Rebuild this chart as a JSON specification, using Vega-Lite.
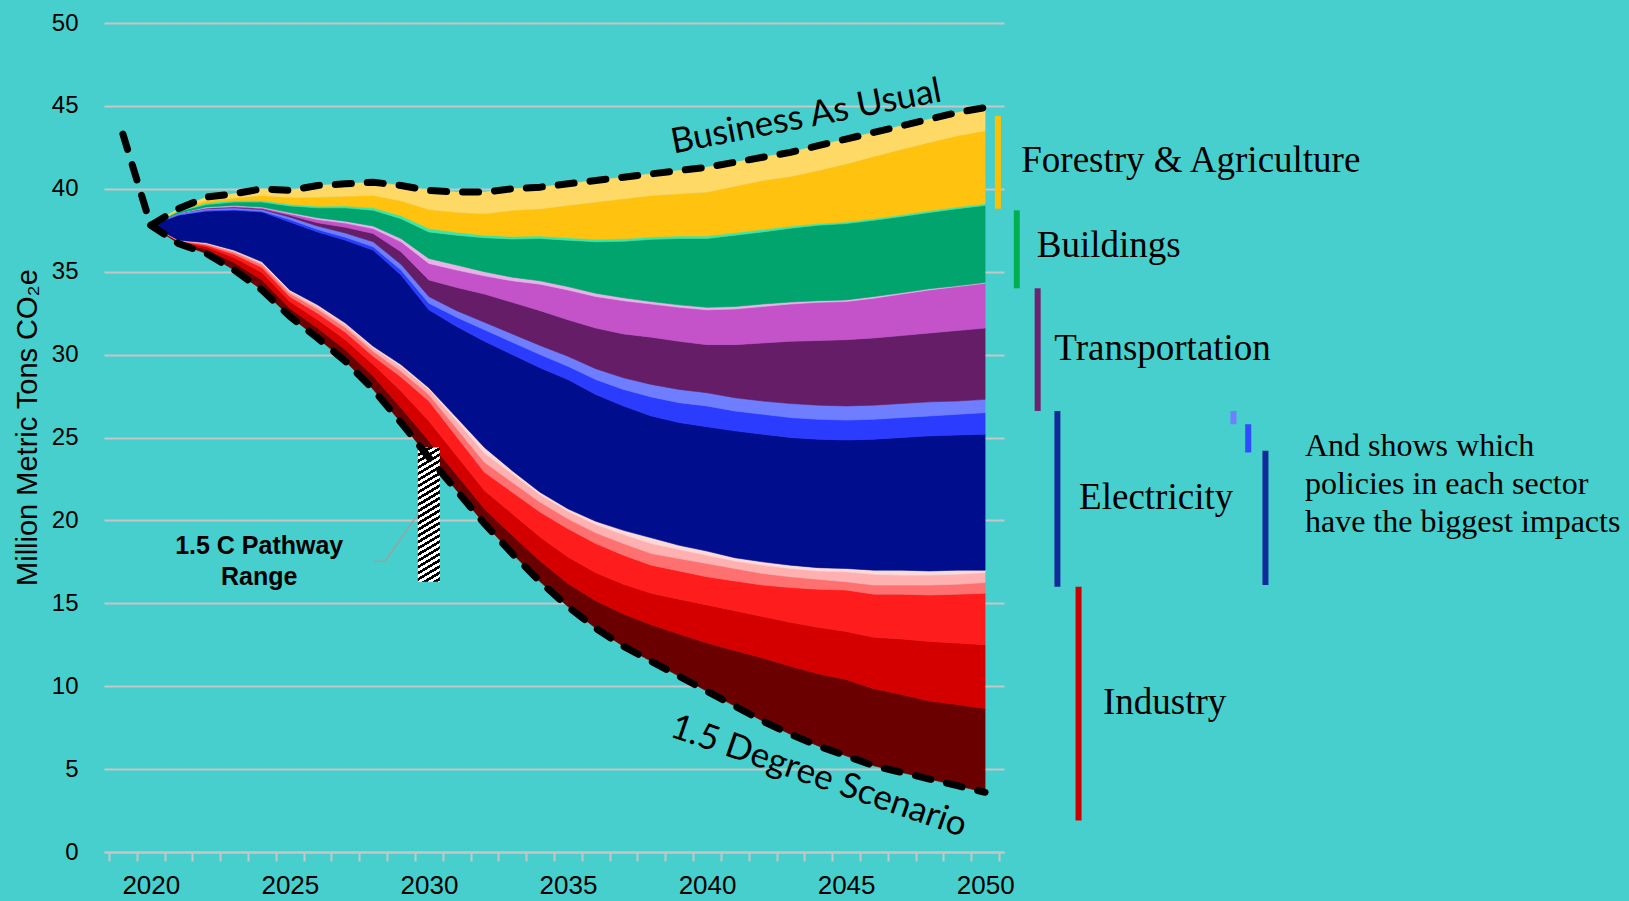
{
  "$schema": "https://vega.github.io/schema/vega-lite/v6.json",
  "width": 900,
  "height": 829,
  "autosize": {"type": "none"},
  "padding": {"left": 104, "top": 23, "right": 625, "bottom": 49},
  "background": "#46CFCC",
  "config": {"view": {"stroke": null}},
  "datasets": {
    "wedges": [
      {"year":2020,"a_base":37.8,"b_ind1":0,"c_ind2":0,"d_ind3":0,"e_ind4":0,"f_ind5":0,"g_ind6":0,"h_elec1":0,"i_elec2":0,"j_elec3":0,"k_trans1":0,"l_trans2":0,"m_trans3":0,"n_bldg1":0,"o_bldg2":0,"p_forag1":0,"q_forag2":0},
      {"year":2021,"a_base":36.7,"b_ind1":0.08,"c_ind2":0.05,"d_ind3":0.03,"e_ind4":0.02,"f_ind5":0.01,"g_ind6":0.01,"h_elec1":1.5,"i_elec2":0.03,"j_elec3":0.1,"k_trans1":0,"l_trans2":0,"m_trans3":0,"n_bldg1":0.1,"o_bldg2":0.05,"p_forag1":0.07,"q_forag2":0.05},
      {"year":2022,"a_base":36.1,"b_ind1":0.25,"c_ind2":0.15,"d_ind3":0.1,"e_ind4":0.07,"f_ind5":0.05,"g_ind6":0.03,"h_elec1":1.9,"i_elec2":0.05,"j_elec3":0.1,"k_trans1":0.03,"l_trans2":0.02,"m_trans3":0.05,"n_bldg1":0.15,"o_bldg2":0.1,"p_forag1":0.15,"q_forag2":0.2},
      {"year":2023,"a_base":35.1,"b_ind1":0.45,"c_ind2":0.3,"d_ind3":0.2,"e_ind4":0.13,"f_ind5":0.07,"g_ind6":0.05,"h_elec1":2.4,"i_elec2":0.05,"j_elec3":0.1,"k_trans1":0.05,"l_trans2":0.05,"m_trans3":0.05,"n_bldg1":0.2,"o_bldg2":0.1,"p_forag1":0.15,"q_forag2":0.25},
      {"year":2024,"a_base":33.9,"b_ind1":0.6,"c_ind2":0.45,"d_ind3":0.3,"e_ind4":0.18,"f_ind5":0.1,"g_ind6":0.07,"h_elec1":3.0,"i_elec2":0.05,"j_elec3":0.1,"k_trans1":0.05,"l_trans2":0.05,"m_trans3":0.05,"n_bldg1":0.3,"o_bldg2":0.1,"p_forag1":0.3,"q_forag2":0.4},
      {"year":2025,"a_base":32.3,"b_ind1":0.5,"c_ind2":0.4,"d_ind3":0.3,"e_ind4":0.2,"f_ind5":0.12,"g_ind6":0.08,"h_elec1":4.1,"i_elec2":0.15,"j_elec3":0.15,"k_trans1":0.1,"l_trans2":0.1,"m_trans3":0.07,"n_bldg1":0.4,"o_bldg2":0.1,"p_forag1":0.4,"q_forag2":0.43},
      {"year":2026,"a_base":31.0,"b_ind1":0.6,"c_ind2":0.5,"d_ind3":0.4,"e_ind4":0.25,"f_ind5":0.15,"g_ind6":0.1,"h_elec1":4.4,"i_elec2":0.15,"j_elec3":0.2,"k_trans1":0.2,"l_trans2":0.2,"m_trans3":0.1,"n_bldg1":0.6,"o_bldg2":0.1,"p_forag1":0.55,"q_forag2":0.7},
      {"year":2027,"a_base":29.6,"b_ind1":0.7,"c_ind2":0.6,"d_ind3":0.45,"e_ind4":0.28,"f_ind5":0.17,"g_ind6":0.1,"h_elec1":5.0,"i_elec2":0.18,"j_elec3":0.25,"k_trans1":0.35,"l_trans2":0.25,"m_trans3":0.12,"n_bldg1":0.8,"o_bldg2":0.12,"p_forag1":0.58,"q_forag2":0.75},
      {"year":2028,"a_base":27.9,"b_ind1":0.8,"c_ind2":0.7,"d_ind3":0.5,"e_ind4":0.3,"f_ind5":0.2,"g_ind6":0.1,"h_elec1":5.8,"i_elec2":0.2,"j_elec3":0.3,"k_trans1":0.5,"l_trans2":0.3,"m_trans3":0.15,"n_bldg1":0.95,"o_bldg2":0.15,"p_forag1":0.75,"q_forag2":0.8},
      {"year":2029,"a_base":25.9,"b_ind1":0.9,"c_ind2":1.0,"d_ind3":0.85,"e_ind4":0.35,"f_ind5":0.28,"g_ind6":0.12,"h_elec1":5.4,"i_elec2":0.3,"j_elec3":0.35,"k_trans1":0.75,"l_trans2":0.6,"m_trans3":0.2,"n_bldg1":1.2,"o_bldg2":0.18,"p_forag1":0.9,"q_forag2":0.92},
      {"year":2030,"a_base":23.8,"b_ind1":1.0,"c_ind2":1.2,"d_ind3":1.2,"e_ind4":0.4,"f_ind5":0.3,"g_ind6":0.1,"h_elec1":4.7,"i_elec2":0.4,"j_elec3":0.4,"k_trans1":1.0,"l_trans2":1.0,"m_trans3":0.3,"n_bldg1":1.6,"o_bldg2":0.2,"p_forag1":1.15,"q_forag2":1.15},
      {"year":2031,"a_base":21.8,"b_ind1":0.95,"c_ind2":1.15,"d_ind3":1.15,"e_ind4":0.5,"f_ind5":0.45,"g_ind6":0.2,"h_elec1":5.5,"i_elec2":0.55,"j_elec3":0.4,"k_trans1":1.4,"l_trans2":1.05,"m_trans3":0.3,"n_bldg1":1.8,"o_bldg2":0.18,"p_forag1":1.2,"q_forag2":1.22},
      {"year":2032,"a_base":19.8,"b_ind1":0.9,"c_ind2":1.1,"d_ind3":1.1,"e_ind4":0.6,"f_ind5":0.55,"g_ind6":0.35,"h_elec1":6.4,"i_elec2":0.7,"j_elec3":0.45,"k_trans1":1.7,"l_trans2":1.1,"m_trans3":0.25,"n_bldg1":2.05,"o_bldg2":0.15,"p_forag1":1.3,"q_forag2":1.3},
      {"year":2033,"a_base":18.0,"b_ind1":1.1,"c_ind2":1.3,"d_ind3":1.3,"e_ind4":0.6,"f_ind5":0.5,"g_ind6":0.2,"h_elec1":7.0,"i_elec2":0.75,"j_elec3":0.5,"k_trans1":1.9,"l_trans2":1.3,"m_trans3":0.22,"n_bldg1":2.3,"o_bldg2":0.15,"p_forag1":1.58,"q_forag2":1.3},
      {"year":2034,"a_base":16.3,"b_ind1":1.25,"c_ind2":1.45,"d_ind3":1.5,"e_ind4":0.6,"f_ind5":0.45,"g_ind6":0.15,"h_elec1":7.5,"i_elec2":0.8,"j_elec3":0.55,"k_trans1":2.1,"l_trans2":1.6,"m_trans3":0.2,"n_bldg1":2.55,"o_bldg2":0.15,"p_forag1":1.65,"q_forag2":1.3},
      {"year":2035,"a_base":14.8,"b_ind1":1.4,"c_ind2":1.6,"d_ind3":1.7,"e_ind4":0.6,"f_ind5":0.45,"g_ind6":0.15,"h_elec1":7.8,"i_elec2":0.8,"j_elec3":0.6,"k_trans1":2.2,"l_trans2":1.8,"m_trans3":0.2,"n_bldg1":2.8,"o_bldg2":0.15,"p_forag1":1.95,"q_forag2":1.3},
      {"year":2036,"a_base":13.5,"b_ind1":1.65,"c_ind2":1.7,"d_ind3":1.75,"e_ind4":0.65,"f_ind5":0.5,"g_ind6":0.2,"h_elec1":7.65,"i_elec2":0.9,"j_elec3":0.65,"k_trans1":2.45,"l_trans2":1.9,"m_trans3":0.2,"n_bldg1":3.1,"o_bldg2":0.15,"p_forag1":2.25,"q_forag2":1.3},
      {"year":2037,"a_base":12.4,"b_ind1":1.95,"c_ind2":1.8,"d_ind3":1.75,"e_ind4":0.7,"f_ind5":0.55,"g_ind6":0.25,"h_elec1":7.5,"i_elec2":1.0,"j_elec3":0.7,"k_trans1":2.65,"l_trans2":2.0,"m_trans3":0.18,"n_bldg1":3.4,"o_bldg2":0.15,"p_forag1":2.42,"q_forag2":1.3},
      {"year":2038,"a_base":11.5,"b_ind1":2.2,"c_ind2":1.9,"d_ind3":1.7,"e_ind4":0.7,"f_ind5":0.6,"g_ind6":0.35,"h_elec1":7.35,"i_elec2":1.15,"j_elec3":0.75,"k_trans1":2.85,"l_trans2":2.0,"m_trans3":0.15,"n_bldg1":3.75,"o_bldg2":0.15,"p_forag1":2.5,"q_forag2":1.3},
      {"year":2039,"a_base":10.6,"b_ind1":2.55,"c_ind2":2.1,"d_ind3":1.7,"e_ind4":0.75,"f_ind5":0.55,"g_ind6":0.25,"h_elec1":7.4,"i_elec2":1.2,"j_elec3":0.8,"k_trans1":2.9,"l_trans2":2.05,"m_trans3":0.15,"n_bldg1":4.0,"o_bldg2":0.15,"p_forag1":2.55,"q_forag2":1.4},
      {"year":2040,"a_base":9.7,"b_ind1":2.9,"c_ind2":2.3,"d_ind3":1.7,"e_ind4":0.8,"f_ind5":0.5,"g_ind6":0.25,"h_elec1":7.5,"i_elec2":1.25,"j_elec3":0.8,"k_trans1":2.9,"l_trans2":2.1,"m_trans3":0.15,"n_bldg1":4.15,"o_bldg2":0.15,"p_forag1":2.65,"q_forag2":1.5},
      {"year":2041,"a_base":8.8,"b_ind1":3.35,"c_ind2":2.4,"d_ind3":1.8,"e_ind4":0.75,"f_ind5":0.45,"g_ind6":0.2,"h_elec1":7.65,"i_elec2":1.2,"j_elec3":0.8,"k_trans1":3.2,"l_trans2":2.15,"m_trans3":0.15,"n_bldg1":4.3,"o_bldg2":0.15,"p_forag1":2.8,"q_forag2":1.45},
      {"year":2042,"a_base":7.9,"b_ind1":3.8,"c_ind2":2.5,"d_ind3":1.9,"e_ind4":0.7,"f_ind5":0.5,"g_ind6":0.2,"h_elec1":7.7,"i_elec2":1.2,"j_elec3":0.8,"k_trans1":3.5,"l_trans2":2.2,"m_trans3":0.15,"n_bldg1":4.35,"o_bldg2":0.15,"p_forag1":2.95,"q_forag2":1.4},
      {"year":2043,"a_base":7.1,"b_ind1":4.1,"c_ind2":2.65,"d_ind3":2.1,"e_ind4":0.65,"f_ind5":0.5,"g_ind6":0.2,"h_elec1":7.7,"i_elec2":1.2,"j_elec3":0.85,"k_trans1":3.75,"l_trans2":2.25,"m_trans3":0.12,"n_bldg1":4.45,"o_bldg2":0.12,"p_forag1":3.0,"q_forag2":1.46},
      {"year":2044,"a_base":6.4,"b_ind1":4.35,"c_ind2":2.8,"d_ind3":2.3,"e_ind4":0.6,"f_ind5":0.5,"g_ind6":0.2,"h_elec1":7.75,"i_elec2":1.2,"j_elec3":0.85,"k_trans1":3.9,"l_trans2":2.3,"m_trans3":0.1,"n_bldg1":4.55,"o_bldg2":0.1,"p_forag1":3.2,"q_forag2":1.5},
      {"year":2045,"a_base":5.8,"b_ind1":4.6,"c_ind2":2.9,"d_ind3":2.5,"e_ind4":0.5,"f_ind5":0.6,"g_ind6":0.2,"h_elec1":7.75,"i_elec2":1.2,"j_elec3":0.85,"k_trans1":4.0,"l_trans2":2.3,"m_trans3":0.1,"n_bldg1":4.6,"o_bldg2":0.1,"p_forag1":3.5,"q_forag2":1.5},
      {"year":2046,"a_base":5.2,"b_ind1":4.65,"c_ind2":3.1,"d_ind3":2.6,"e_ind4":0.55,"f_ind5":0.65,"g_ind6":0.25,"h_elec1":7.9,"i_elec2":1.2,"j_elec3":0.85,"k_trans1":4.05,"l_trans2":2.4,"m_trans3":0.1,"n_bldg1":4.6,"o_bldg2":0.1,"p_forag1":3.75,"q_forag2":1.45},
      {"year":2047,"a_base":4.8,"b_ind1":4.7,"c_ind2":3.35,"d_ind3":2.7,"e_ind4":0.55,"f_ind5":0.6,"g_ind6":0.3,"h_elec1":8.0,"i_elec2":1.2,"j_elec3":0.85,"k_trans1":4.1,"l_trans2":2.5,"m_trans3":0.08,"n_bldg1":4.6,"o_bldg2":0.1,"p_forag1":3.95,"q_forag2":1.42},
      {"year":2048,"a_base":4.4,"b_ind1":4.7,"c_ind2":3.6,"d_ind3":2.8,"e_ind4":0.6,"f_ind5":0.6,"g_ind6":0.25,"h_elec1":8.15,"i_elec2":1.2,"j_elec3":0.85,"k_trans1":4.15,"l_trans2":2.6,"m_trans3":0.07,"n_bldg1":4.6,"o_bldg2":0.1,"p_forag1":4.13,"q_forag2":1.4},
      {"year":2049,"a_base":4.0,"b_ind1":4.9,"c_ind2":3.7,"d_ind3":2.95,"e_ind4":0.6,"f_ind5":0.6,"g_ind6":0.25,"h_elec1":8.15,"i_elec2":1.25,"j_elec3":0.8,"k_trans1":4.25,"l_trans2":2.65,"m_trans3":0.05,"n_bldg1":4.65,"o_bldg2":0.1,"p_forag1":4.3,"q_forag2":1.4},
      {"year":2050,"a_base":3.6,"b_ind1":5.05,"c_ind2":3.85,"d_ind3":3.1,"e_ind4":0.65,"f_ind5":0.6,"g_ind6":0.15,"h_elec1":8.2,"i_elec2":1.3,"j_elec3":0.8,"k_trans1":4.3,"l_trans2":2.7,"m_trans3":0.05,"n_bldg1":4.65,"o_bldg2":0.1,"p_forag1":4.4,"q_forag2":1.4}
    ],
    "scenarios": [
      {"year":2019,"scenario":"Business As Usual","mt":43.3},
      {"year":2020,"scenario":"Business As Usual","mt":37.8},
      {"year":2021,"scenario":"Business As Usual","mt":38.8},
      {"year":2022,"scenario":"Business As Usual","mt":39.5},
      {"year":2023,"scenario":"Business As Usual","mt":39.7},
      {"year":2024,"scenario":"Business As Usual","mt":40.0},
      {"year":2025,"scenario":"Business As Usual","mt":39.9},
      {"year":2026,"scenario":"Business As Usual","mt":40.2},
      {"year":2027,"scenario":"Business As Usual","mt":40.3},
      {"year":2028,"scenario":"Business As Usual","mt":40.4},
      {"year":2029,"scenario":"Business As Usual","mt":40.2},
      {"year":2030,"scenario":"Business As Usual","mt":39.9},
      {"year":2031,"scenario":"Business As Usual","mt":39.8},
      {"year":2032,"scenario":"Business As Usual","mt":39.8},
      {"year":2033,"scenario":"Business As Usual","mt":40.0},
      {"year":2034,"scenario":"Business As Usual","mt":40.1},
      {"year":2035,"scenario":"Business As Usual","mt":40.3},
      {"year":2036,"scenario":"Business As Usual","mt":40.5},
      {"year":2037,"scenario":"Business As Usual","mt":40.7},
      {"year":2038,"scenario":"Business As Usual","mt":40.9},
      {"year":2039,"scenario":"Business As Usual","mt":41.1},
      {"year":2040,"scenario":"Business As Usual","mt":41.3},
      {"year":2041,"scenario":"Business As Usual","mt":41.6},
      {"year":2042,"scenario":"Business As Usual","mt":41.9},
      {"year":2043,"scenario":"Business As Usual","mt":42.2},
      {"year":2044,"scenario":"Business As Usual","mt":42.6},
      {"year":2045,"scenario":"Business As Usual","mt":43.0},
      {"year":2046,"scenario":"Business As Usual","mt":43.4},
      {"year":2047,"scenario":"Business As Usual","mt":43.8},
      {"year":2048,"scenario":"Business As Usual","mt":44.2},
      {"year":2049,"scenario":"Business As Usual","mt":44.6},
      {"year":2050,"scenario":"Business As Usual","mt":44.9},
      {"year":2020,"scenario":"1.5 Degree Scenario","mt":37.8},
      {"year":2021,"scenario":"1.5 Degree Scenario","mt":36.7},
      {"year":2022,"scenario":"1.5 Degree Scenario","mt":36.1},
      {"year":2023,"scenario":"1.5 Degree Scenario","mt":35.1},
      {"year":2024,"scenario":"1.5 Degree Scenario","mt":33.9},
      {"year":2025,"scenario":"1.5 Degree Scenario","mt":32.3},
      {"year":2026,"scenario":"1.5 Degree Scenario","mt":31.0},
      {"year":2027,"scenario":"1.5 Degree Scenario","mt":29.6},
      {"year":2028,"scenario":"1.5 Degree Scenario","mt":27.9},
      {"year":2029,"scenario":"1.5 Degree Scenario","mt":25.9},
      {"year":2030,"scenario":"1.5 Degree Scenario","mt":23.8},
      {"year":2031,"scenario":"1.5 Degree Scenario","mt":21.8},
      {"year":2032,"scenario":"1.5 Degree Scenario","mt":19.8},
      {"year":2033,"scenario":"1.5 Degree Scenario","mt":18.0},
      {"year":2034,"scenario":"1.5 Degree Scenario","mt":16.3},
      {"year":2035,"scenario":"1.5 Degree Scenario","mt":14.8},
      {"year":2036,"scenario":"1.5 Degree Scenario","mt":13.5},
      {"year":2037,"scenario":"1.5 Degree Scenario","mt":12.4},
      {"year":2038,"scenario":"1.5 Degree Scenario","mt":11.5},
      {"year":2039,"scenario":"1.5 Degree Scenario","mt":10.6},
      {"year":2040,"scenario":"1.5 Degree Scenario","mt":9.7},
      {"year":2041,"scenario":"1.5 Degree Scenario","mt":8.8},
      {"year":2042,"scenario":"1.5 Degree Scenario","mt":7.9},
      {"year":2043,"scenario":"1.5 Degree Scenario","mt":7.1},
      {"year":2044,"scenario":"1.5 Degree Scenario","mt":6.4},
      {"year":2045,"scenario":"1.5 Degree Scenario","mt":5.8},
      {"year":2046,"scenario":"1.5 Degree Scenario","mt":5.2},
      {"year":2047,"scenario":"1.5 Degree Scenario","mt":4.8},
      {"year":2048,"scenario":"1.5 Degree Scenario","mt":4.4},
      {"year":2049,"scenario":"1.5 Degree Scenario","mt":4.0},
      {"year":2050,"scenario":"1.5 Degree Scenario","mt":3.6}
    ]
  },
  "encoding": {
    "x": {
      "field": "year", "type": "quantitative",
      "scale": {"domain": [2018.5, 2050.5], "nice": false, "zero": false},
      "axis": {
        "title": null,
        "values": [2018.5,2019.5,2020.5,2021.5,2022.5,2023.5,2024.5,2025.5,2026.5,2027.5,2028.5,2029.5,2030.5,2031.5,2032.5,2033.5,2034.5,2035.5,2036.5,2037.5,2038.5,2039.5,2040.5,2041.5,2042.5,2043.5,2044.5,2045.5,2046.5,2047.5,2048.5,2049.5,2050.5],
        "grid": false, "domain": true, "domainColor": "#C6C6C6", "domainWidth": 2,
        "ticks": true, "tickColor": "#C6C6C6", "tickWidth": 2, "tickSize": 9,
        "labelExpr": "(datum.value + 0.5) % 5 === 0 ? format(datum.value + 0.5, 'd') : ''",
        "labelOffset": 14, "labelFont": "Liberation Sans", "labelFontSize": 26, "labelColor": "#000000",
        "labelPadding": 11, "labelOverlap": false, "labelFlush": false, "labelBound": false
      }
    },
    "y": {
      "field": "mt", "type": "quantitative",
      "scale": {"domain": [0, 50], "nice": false, "zero": false},
      "axis": {
        "title": "Million Metric Tons CO₂e",
        "values": [0,5,10,15,20,25,30,35,40,45,50],
        "grid": true, "gridColor": "#C6C6C6", "gridWidth": 2,
        "domain": false, "ticks": false, "tickSize": 0,
        "labelFont": "Liberation Sans", "labelFontSize": 24, "labelColor": "#000000", "labelPadding": 26,
        "titleFont": "Liberation Sans", "titleFontSize": 29, "titleFontWeight": "normal", "titleColor": "#000000",
        "titleX": -77, "titleY": 404, "titleAngle": 270, "titleAlign": "center", "titleBaseline": "middle"
      }
    }
  },
  "layer": [
    {
      "data": {"name": "wedges"},
      "transform": [{"fold": ["a_base","b_ind1","c_ind2","d_ind3","e_ind4","f_ind5","g_ind6","h_elec1","i_elec2","j_elec3","k_trans1","l_trans2","m_trans3","n_bldg1","o_bldg2","p_forag1","q_forag2"], "as": ["wedge","mt"]}],
      "mark": {"type": "area", "strokeWidth": 0.6, "interpolate": "linear"},
      "encoding": {
        "fill": {"field": "wedge", "type": "nominal", "legend": null,
          "scale": {"domain": ["a_base","b_ind1","c_ind2","d_ind3","e_ind4","f_ind5","g_ind6","h_elec1","i_elec2","j_elec3","k_trans1","l_trans2","m_trans3","n_bldg1","o_bldg2","p_forag1","q_forag2"],
                    "range": ["rgba(0,0,0,0)","#6B0000","#D40000","#FF1C1C","#FF7070","#FFB0B0","#FFD8D8","#000E8E","#2B3CFF","#6E7EFF","#651D67","#C452C8","#E8B4E8","#00A46C","#3EE6A6","#FFC20E","#FFD966"]}},
        "stroke": {"field": "wedge", "type": "nominal", "legend": null,
          "scale": {"domain": ["a_base","b_ind1","c_ind2","d_ind3","e_ind4","f_ind5","g_ind6","h_elec1","i_elec2","j_elec3","k_trans1","l_trans2","m_trans3","n_bldg1","o_bldg2","p_forag1","q_forag2"],
                    "range": ["rgba(0,0,0,0)","#6B0000","#D40000","#FF1C1C","#FF7070","#FFB0B0","#FFD8D8","#000E8E","#2B3CFF","#6E7EFF","#651D67","#C452C8","#E8B4E8","#00A46C","#3EE6A6","#FFC20E","#FFD966"]}},
        "order": {"field": "wedge", "type": "ordinal", "sort": "ascending"}
      }
    },
    {
      "data": {"values": [{"year": 2030, "mt": 24.4, "mt_low": 16.3}]},
      "mark": {"type": "bar", "width": 22, "stroke": null,
        "fill": {"gradient": "linear", "x1": 0, "y1": 0, "x2": 0.1076, "y2": 1.1, "stops": [
          {"offset":0,"color":"#000"},{"offset":0.0208,"color":"#000"},{"offset":0.0208,"color":"#fff"},{"offset":0.0417,"color":"#fff"},
          {"offset":0.0417,"color":"#000"},{"offset":0.0625,"color":"#000"},{"offset":0.0625,"color":"#fff"},{"offset":0.0833,"color":"#fff"},
          {"offset":0.0833,"color":"#000"},{"offset":0.1042,"color":"#000"},{"offset":0.1042,"color":"#fff"},{"offset":0.125,"color":"#fff"},
          {"offset":0.125,"color":"#000"},{"offset":0.1458,"color":"#000"},{"offset":0.1458,"color":"#fff"},{"offset":0.1667,"color":"#fff"},
          {"offset":0.1667,"color":"#000"},{"offset":0.1875,"color":"#000"},{"offset":0.1875,"color":"#fff"},{"offset":0.2083,"color":"#fff"},
          {"offset":0.2083,"color":"#000"},{"offset":0.2292,"color":"#000"},{"offset":0.2292,"color":"#fff"},{"offset":0.25,"color":"#fff"},
          {"offset":0.25,"color":"#000"},{"offset":0.2708,"color":"#000"},{"offset":0.2708,"color":"#fff"},{"offset":0.2917,"color":"#fff"},
          {"offset":0.2917,"color":"#000"},{"offset":0.3125,"color":"#000"},{"offset":0.3125,"color":"#fff"},{"offset":0.3333,"color":"#fff"},
          {"offset":0.3333,"color":"#000"},{"offset":0.3542,"color":"#000"},{"offset":0.3542,"color":"#fff"},{"offset":0.375,"color":"#fff"},
          {"offset":0.375,"color":"#000"},{"offset":0.3958,"color":"#000"},{"offset":0.3958,"color":"#fff"},{"offset":0.4167,"color":"#fff"},
          {"offset":0.4167,"color":"#000"},{"offset":0.4375,"color":"#000"},{"offset":0.4375,"color":"#fff"},{"offset":0.4583,"color":"#fff"},
          {"offset":0.4583,"color":"#000"},{"offset":0.4792,"color":"#000"},{"offset":0.4792,"color":"#fff"},{"offset":0.5,"color":"#fff"},
          {"offset":0.5,"color":"#000"},{"offset":0.5208,"color":"#000"},{"offset":0.5208,"color":"#fff"},{"offset":0.5417,"color":"#fff"},
          {"offset":0.5417,"color":"#000"},{"offset":0.5625,"color":"#000"},{"offset":0.5625,"color":"#fff"},{"offset":0.5833,"color":"#fff"},
          {"offset":0.5833,"color":"#000"},{"offset":0.6042,"color":"#000"},{"offset":0.6042,"color":"#fff"},{"offset":0.625,"color":"#fff"},
          {"offset":0.625,"color":"#000"},{"offset":0.6458,"color":"#000"},{"offset":0.6458,"color":"#fff"},{"offset":0.6667,"color":"#fff"},
          {"offset":0.6667,"color":"#000"},{"offset":0.6875,"color":"#000"},{"offset":0.6875,"color":"#fff"},{"offset":0.7083,"color":"#fff"},
          {"offset":0.7083,"color":"#000"},{"offset":0.7292,"color":"#000"},{"offset":0.7292,"color":"#fff"},{"offset":0.75,"color":"#fff"},
          {"offset":0.75,"color":"#000"},{"offset":0.7708,"color":"#000"},{"offset":0.7708,"color":"#fff"},{"offset":0.7917,"color":"#fff"},
          {"offset":0.7917,"color":"#000"},{"offset":0.8125,"color":"#000"},{"offset":0.8125,"color":"#fff"},{"offset":0.8333,"color":"#fff"},
          {"offset":0.8333,"color":"#000"},{"offset":0.8542,"color":"#000"},{"offset":0.8542,"color":"#fff"},{"offset":0.875,"color":"#fff"},
          {"offset":0.875,"color":"#000"},{"offset":0.8958,"color":"#000"},{"offset":0.8958,"color":"#fff"},{"offset":0.9167,"color":"#fff"},
          {"offset":0.9167,"color":"#000"},{"offset":0.9375,"color":"#000"},{"offset":0.9375,"color":"#fff"},{"offset":0.9583,"color":"#fff"},
          {"offset":0.9583,"color":"#000"},{"offset":0.9792,"color":"#000"},{"offset":0.9792,"color":"#fff"},{"offset":1,"color":"#fff"}
        ]}},
      "encoding": {"y2": {"field": "mt_low"}}
    },
    {
      "data": {"name": "scenarios"},
      "mark": {"type": "line", "color": "#000000", "strokeWidth": 7, "strokeDash": [16, 16], "strokeCap": "round"},
      "encoding": {"detail": {"field": "scenario", "type": "nominal"}}
    },
    {
      "data": {"values": [{"year": 2028.03, "mt": 17.53}, {"year": 2028.42, "mt": 17.53}, {"year": 2029.63, "mt": 20.42}]},
      "mark": {"type": "line", "color": "#A0A0A0", "strokeWidth": 1.5},
      "encoding": {}
    },
    {
      "data": {"values": [{"year": 2023.9, "mt": 17.95}]},
      "mark": {"type": "text", "text": ["1.5 C  Pathway", "Range"], "font": "Liberation Sans", "fontWeight": "bold", "fontSize": 25, "lineHeight": 31, "align": "center", "baseline": "alphabetic", "color": "#000000"}
    },
    {
      "data": {"values": [{"year": 2043.64, "mt": 43.71}]},
      "mark": {"type": "text", "text": "Business As Usual", "angle": 349, "font": "Lato", "fontSize": 35, "align": "center", "baseline": "alphabetic", "color": "#000000"}
    },
    {
      "data": {"values": [{"year": 2043.89, "mt": 3.95}]},
      "mark": {"type": "text", "text": "1.5 Degree Scenario", "angle": 19, "font": "Lato", "fontSize": 35, "align": "center", "baseline": "alphabetic", "color": "#000000"}
    },
    {
      "data": {"values": [
        {"bar": "Forestry & Agriculture", "year": 2050.46, "mt": 44.4, "mt_low": 38.8},
        {"bar": "Buildings", "year": 2051.14, "mt": 38.7, "mt_low": 34.0},
        {"bar": "Transportation", "year": 2051.89, "mt": 34.0, "mt_low": 26.6},
        {"bar": "Electricity", "year": 2052.6, "mt": 26.6, "mt_low": 16.0},
        {"bar": "Industry", "year": 2053.36, "mt": 16.0, "mt_low": 1.9},
        {"bar": "Electricity policy 1", "year": 2058.93, "mt": 26.6, "mt_low": 25.8},
        {"bar": "Electricity policy 2", "year": 2059.46, "mt": 25.8, "mt_low": 24.1},
        {"bar": "Electricity policy 3", "year": 2060.08, "mt": 24.2, "mt_low": 16.1}
      ]},
      "mark": {"type": "rule", "strokeWidth": 6},
      "encoding": {
        "y2": {"field": "mt_low"},
        "color": {"field": "bar", "type": "nominal", "legend": null,
          "scale": {"domain": ["Forestry & Agriculture","Buildings","Transportation","Electricity","Industry","Electricity policy 1","Electricity policy 2","Electricity policy 3"],
                    "range": ["#FFC000","#00B050","#6E2370","#112C9A","#CC0000","#6F7FFF","#2E4BFF","#112C9A"]}}
      }
    },
    {
      "data": {"values": [
        {"label": "Forestry & Agriculture", "year": 2051.3, "mt": 41.0},
        {"label": "Buildings", "year": 2051.86, "mt": 35.88},
        {"label": "Transportation", "year": 2052.49, "mt": 29.69},
        {"label": "Electricity", "year": 2053.38, "mt": 20.7},
        {"label": "Industry", "year": 2054.24, "mt": 8.34}
      ]},
      "mark": {"type": "text", "font": "Liberation Serif", "fontSize": 37, "align": "left", "baseline": "alphabetic", "color": "#000000"},
      "encoding": {"text": {"field": "label", "type": "nominal"}}
    },
    {
      "data": {"values": [{"year": 2061.5, "mt": 23.86}]},
      "mark": {"type": "text", "text": ["And shows which", "policies in each sector", "have the biggest impacts"], "font": "Liberation Serif", "fontSize": 32, "lineHeight": 38, "align": "left", "baseline": "alphabetic", "color": "#000000"}
    }
  ]
}
